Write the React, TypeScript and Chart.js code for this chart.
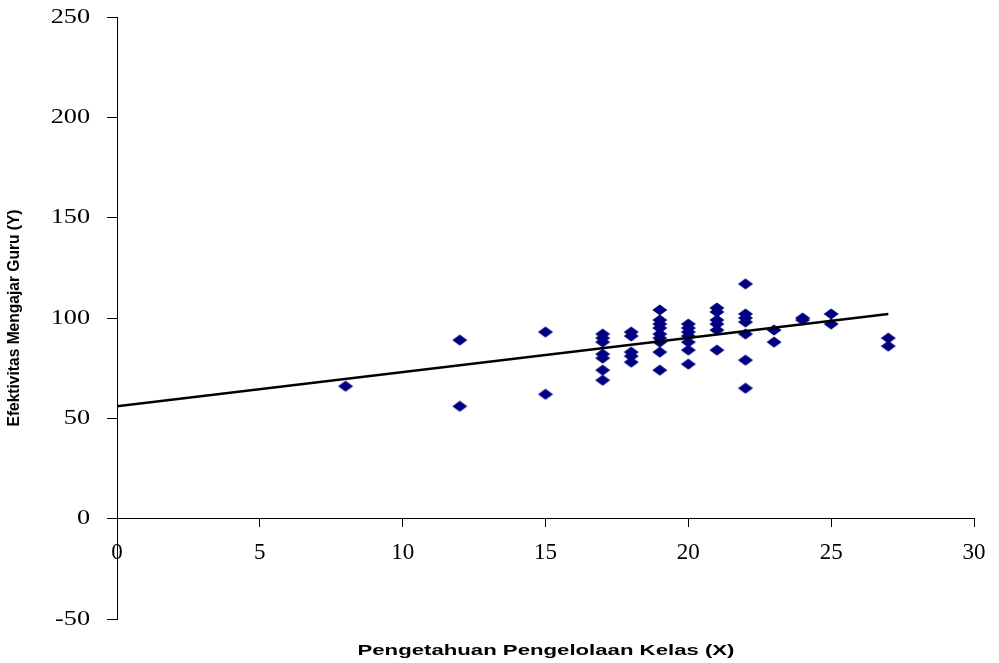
import React, { useEffect, useRef } from "react";
import { Chart, registerables } from "chart.js";

Chart.register(...registerables);

// Scatter data: Pengetahuan Pengelolaan Kelas (X) vs Efektivitas Mengajar Guru (Y)
const pointX = [
  8,
  12, 12,
  15, 15,
  17, 17, 17, 17, 17, 17, 17,
  18, 18, 18, 18, 18,
  19, 19, 19, 19, 19, 19, 19, 19, 19,
  20, 20, 20, 20, 20, 20, 20,
  21, 21, 21, 21, 21, 21,
  22, 22, 22, 22, 22, 22, 22,
  23, 23,
  24, 24,
  25, 25,
  27, 27,
];
const pointY = [
  66,
  89, 56,
  93, 62,
  92, 90, 88, 82, 80, 74, 69,
  93, 91, 83, 81, 78,
  104, 99, 97, 95, 92, 90, 88, 83, 74,
  97, 95, 93, 91, 88, 84, 77,
  105, 103, 99, 97, 94, 84,
  117, 102, 100, 98, 92, 79, 65,
  94, 88,
  100, 99,
  102, 97,
  90, 86,
];

// Linear trend line endpoints
const trendX = [0, 27];
const trendY = [56, 102];

// Axis ranges / ticks
const xMin = 0;
const xMax = 30;
const xStep = 5;
const yMin = -50;
const yMax = 250;
const yStep = 50;

const xTitle = "Pengetahuan Pengelolaan Kelas (X)";
const yTitle = "Efektivitas Mengajar Guru (Y)";

function drawFitted(ctx: CanvasRenderingContext2D, text: string, cx: number, cy: number, width: number, rot: number) {
  const w = ctx.measureText(text).width;
  ctx.save();
  ctx.translate(cx, cy);
  ctx.rotate(rot);
  ctx.scale(width / w, 1);
  ctx.textAlign = "center";
  ctx.textBaseline = "middle";
  ctx.fillText(text, 0, 0);
  ctx.restore();
}

const textPlugin = {
  id: "customText",
  afterDraw(chart: any) {
    const ctx: CanvasRenderingContext2D = chart.ctx;
    const ys = chart.scales.y;
    const area = chart.chartArea;
    ctx.save();
    ctx.fillStyle = "#000";
    ctx.font = '21px "Liberation Serif"';
    ctx.textAlign = "right";
    ctx.textBaseline = "middle";
    ys.ticks.forEach((t: any) => {
      const py = ys.getPixelForValue(t.value);
      ctx.save();
      ctx.translate(area.left - 27, py);
      ctx.scale(1.25, 1);
      ctx.fillText(String(t.value), 0, 0);
      ctx.restore();
    });
    ctx.font = 'bold 15px "Liberation Sans"';
    drawFitted(ctx, xTitle, 546, 651, 377, 0);
    ctx.font = 'bold 16px "Liberation Sans"';
    drawFitted(ctx, yTitle, 15, 318, 217, -Math.PI / 2);
    ctx.restore();
  },
};

function makeDiamond(): HTMLCanvasElement {
  const c = document.createElement("canvas");
  c.width = 16;
  c.height = 12;
  const g = c.getContext("2d")!;
  g.fillStyle = "#000080";
  g.beginPath();
  g.moveTo(0.5, 6);
  g.lineTo(8, 0.5);
  g.lineTo(15.5, 6);
  g.lineTo(8, 11.5);
  g.closePath();
  g.fill();
  return c;
}

export default function App() {
  const ref = useRef<HTMLCanvasElement | null>(null);

  useEffect(() => {
    if (!ref.current) return;
    const diamond = makeDiamond();
    const scatterData = pointX.map((x, i) => ({ x, y: pointY[i] }));
    const trendData = trendX.map((x, i) => ({ x, y: trendY[i] }));

    const chart = new Chart(ref.current, {
      type: "scatter",
      data: {
        datasets: [
          {
            type: "line",
            label: "Trend",
            data: trendData,
            borderColor: "#000",
            borderWidth: 2.5,
            pointRadius: 0,
            fill: false,
            tension: 0,
          } as any,
          {
            label: "Data",
            data: scatterData,
            pointStyle: diamond as any,
            pointRadius: 8,
            backgroundColor: "#000080",
            borderColor: "#000080",
          },
        ],
      },
      options: {
        responsive: false,
        animation: false,
        events: [],
        layout: { padding: { left: 0, top: 17, right: 25, bottom: 44 } },
        plugins: {
          legend: { display: false },
          tooltip: { enabled: false },
          title: { display: false },
        },
        scales: {
          x: {
            type: "linear",
            position: { y: 0 } as any,
            min: xMin,
            max: xMax,
            ticks: {
              stepSize: xStep,
              color: "#000",
              font: { family: '"Liberation Serif"', size: 23 },
              padding: 12,
              maxRotation: 0,
            },
            grid: {
              display: true,
              drawOnChartArea: false,
              drawTicks: true,
              tickLength: 8,
              color: "#000",
            },
            border: { display: true, color: "#000", width: 1 },
            afterFit: (scale: any) => {
              scale.height = 0;
              scale.paddingLeft = 0;
              scale.paddingRight = 0;
              scale.paddingTop = 0;
              scale.paddingBottom = 0;
            },
          },
          y: {
            type: "linear",
            position: "left",
            min: yMin,
            max: yMax,
            ticks: {
              stepSize: yStep,
              color: "rgba(0,0,0,0)",
              font: { family: '"Liberation Serif"', size: 20 },
              padding: 16,
            },
            grid: {
              display: true,
              drawOnChartArea: false,
              drawTicks: true,
              tickLength: 10,
              color: "#000",
            },
            border: { display: true, color: "#000", width: 1 },
            afterFit: (scale: any) => {
              scale.width = 117;
              scale.paddingLeft = 0;
              scale.paddingRight = 0;
              scale.paddingTop = 0;
              scale.paddingBottom = 0;
            },
          },
        },
      },
      plugins: [textPlugin],
    });
    return () => chart.destroy();
  }, []);

  return (
    <div style={{ position: "absolute", left: 0, top: 0, width: 999, height: 663, background: "#fff" }}>
      <canvas ref={ref} width={999} height={663} />
    </div>
  );
}
